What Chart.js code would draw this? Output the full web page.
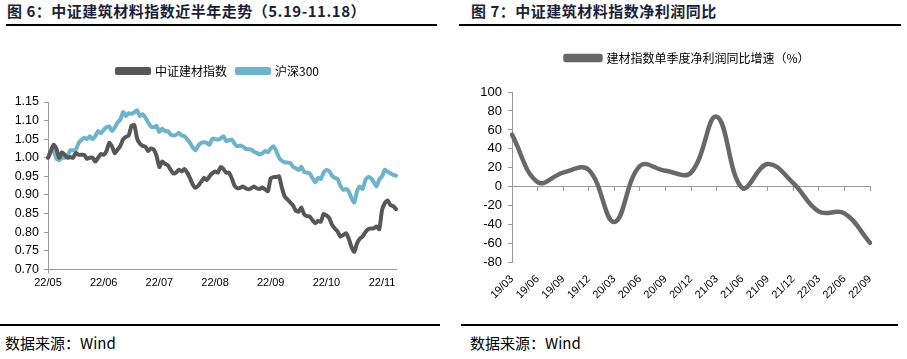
<!DOCTYPE html>
<html><head><meta charset="utf-8">
<script src="https://cdn.jsdelivr.net/npm/chart.js@4.4.0/dist/chart.umd.min.js"></script>
<style>
html,body{margin:0;padding:0;background:#fff;}
body{width:907px;height:359px;position:relative;overflow:hidden;font-family:"Noto Sans CJK SC","Liberation Sans",sans-serif;}
.title{position:absolute;top:0;line-height:22px;font-size:15px;font-weight:bold;color:#1a1f3c;white-space:nowrap;letter-spacing:0.5px;}
.rule{position:absolute;height:2px;background:#000;}
.src{position:absolute;top:333px;line-height:20px;font-size:15px;color:#000;white-space:nowrap;}
.box{position:absolute;}
</style></head><body>
<div class="title" style="left:7px">图 6：中证建筑材料指数近半年走势（5.19-11.18）</div>
<div class="rule" style="left:6px;top:24px;width:431px"></div>
<div class="title" style="left:471px">图 7：中证建筑材料指数净利润同比</div>
<div class="rule" style="left:459px;top:24px;width:442px"></div>
<div class="box" style="left:0;top:30px;width:453px;height:264px"><canvas id="c1"></canvas></div>
<div class="box" style="left:453px;top:30px;width:454px;height:275px"><canvas id="c2"></canvas></div>
<div class="rule" style="left:0;top:324px;width:440px;height:1.5px"></div>
<div class="rule" style="left:461px;top:324px;width:437px;height:1.5px"></div>
<div class="src" style="left:5px">数据来源：Wind</div>
<div class="src" style="left:470px">数据来源：Wind</div>
<script>
// ---- Chart 6 data ----
const tickLabels1 = ['22/05','22/06','22/07','22/08','22/09','22/10','22/11'];
const tickEvery1 = 20;
const jiancai = [
1.000,1.018,1.035,1.025,1.000,1.015,1.008,1.000,1.002,1.000,
1.013,1.008,1.008,1.008,0.997,1.000,1.000,0.990,1.000,1.010,
1.008,1.018,1.040,1.030,1.012,1.022,1.032,1.050,1.056,1.060,
1.086,1.088,1.052,1.038,1.032,1.030,1.018,1.025,1.022,1.005,
0.975,0.990,0.984,0.980,0.968,0.958,0.960,0.968,0.963,0.970,
0.960,0.945,0.928,0.919,0.925,0.935,0.946,0.940,0.950,0.958,
0.963,0.960,0.975,0.970,0.960,0.960,0.945,0.925,0.918,0.919,
0.923,0.918,0.915,0.918,0.923,0.918,0.916,0.920,0.915,0.910,
0.945,0.948,0.948,0.950,0.920,0.896,0.888,0.880,0.872,0.858,
0.855,0.866,0.848,0.843,0.842,0.832,0.824,0.830,0.828,0.849,
0.845,0.838,0.820,0.810,0.802,0.788,0.792,0.797,0.783,0.760,
0.747,0.770,0.782,0.788,0.800,0.808,0.810,0.810,0.815,0.808,
0.860,0.878,0.885,0.873,0.870,0.862];
const hs300 = [
1.000,1.015,1.022,0.998,0.993,1.000,1.000,1.005,1.020,1.020,
1.022,1.040,1.048,1.054,1.050,1.058,1.050,1.058,1.072,1.066,
1.075,1.082,1.084,1.072,1.082,1.095,1.103,1.123,1.112,1.120,
1.118,1.122,1.128,1.112,1.117,1.108,1.095,1.084,1.082,1.086,
1.069,1.078,1.072,1.072,1.063,1.060,1.062,1.067,1.060,1.058,
1.050,1.040,1.028,1.020,1.033,1.040,1.042,1.040,1.035,1.051,
1.050,1.049,1.052,1.058,1.045,1.047,1.049,1.038,1.031,1.033,
1.030,1.024,1.023,1.022,1.016,1.013,1.009,1.012,1.018,1.015,
1.025,1.031,1.018,1.000,0.992,0.988,0.987,0.986,0.976,0.972,
0.967,0.976,0.962,0.960,0.958,0.945,0.934,0.946,0.943,0.960,
0.967,0.964,0.952,0.946,0.943,0.925,0.914,0.916,0.910,0.892,
0.880,0.910,0.923,0.916,0.940,0.948,0.945,0.935,0.923,0.942,
0.950,0.968,0.962,0.958,0.954,0.952];
// ---- Chart 7 data ----
const quarters = ['19/03','19/06','19/09','19/12','20/03','20/06','20/09','20/12','21/03','21/06','21/09','21/12','22/03','22/06','22/09'];
const profitYoY = [55, 5, 15, 18, -37, 22, 17, 15, 74, -1, 24, 4, -26, -28, -59];

const CJK = '"Noto Sans CJK SC", sans-serif';
const LAT = '"Liberation Sans", Arial, sans-serif';
Chart.defaults.font.family = LAT;
Chart.defaults.color = '#000';

// adds extra space under the legend and shifts it sideways
const legendGap = {
  id: 'legendGap',
  beforeInit(chart, args, opts) {
    const orig = chart.legend.fit;
    chart.legend.fit = function () { orig.call(this); this.height += (opts.extra || 0); };
  },
  afterLayout(chart, args, opts) {
    const dx = opts.shift || 0;
    chart.legend.left += dx; chart.legend.right += dx;
  }
};

const categories1 = jiancai.map((_, i) => i % tickEvery1 === 0 ? tickLabels1[i / tickEvery1] : '');
const axisGray = '#9a9a9a';

new Chart(document.getElementById('c1'), {
  type: 'line',
  data: {
    labels: categories1,
    datasets: [
      {label: '中证建材指数', data: jiancai, borderColor: '#575757', backgroundColor: '#575757', borderWidth: 4, pointRadius: 0, tension: 0.2, borderJoinStyle: 'round', borderCapStyle: 'round'},
      {label: '沪深300', data: hs300, borderColor: '#6cb3cd', backgroundColor: '#6cb3cd', borderWidth: 4, pointRadius: 0, tension: 0.2, borderJoinStyle: 'round', borderCapStyle: 'round'}
    ]
  },
  plugins: [legendGap],
  options: {
    responsive: true, maintainAspectRatio: false, animation: false, events: [],
    layout: {padding: {top: 25, left: 0, right: 57, bottom: 0}},
    plugins: {
      legendGap: {extra: 15, shift: 20},
      tooltip: {enabled: false},
      legend: {position: 'top', labels: {boxWidth: 32, boxHeight: 4, padding: 10, font: {size: 12, family: CJK}, color: '#000'}}
    },
    scales: {
      x: {
        offset: false,
        grid: {drawOnChartArea: false, drawTicks: true, tickLength: 4,
               color: ctx => (ctx.index % tickEvery1 === 0 ? axisGray : 'rgba(0,0,0,0)')},
        border: {color: axisGray, width: 1},
        ticks: {autoSkip: false, maxRotation: 0, minRotation: 0, padding: 3, font: {size: 11}, color: '#000',
                callback: function (v) { const l = this.getLabelForValue(v); return l === '' ? null : l; }},
        afterFit(s) { s.height = 24.7; }
      },
      y: {
        min: 0.70, max: 1.15,
        grid: {drawOnChartArea: false, drawTicks: true, tickLength: 4, color: axisGray},
        border: {color: axisGray, width: 1},
        ticks: {stepSize: 0.05, padding: 5, font: {size: 12.5}, color: '#000', callback: v => Number(v).toFixed(2)},
        afterFit(s) { s.width = 48; }
      }
    }
  }
});

new Chart(document.getElementById('c2'), {
  type: 'line',
  data: {
    labels: quarters,
    datasets: [
      {label: '建材指数单季度净利润同比增速（%）', data: profitYoY, borderColor: '#686868', backgroundColor: '#686868', borderWidth: 4.5, pointRadius: 0, tension: 0.4, borderJoinStyle: 'round', borderCapStyle: 'round'}
    ]
  },
  plugins: [legendGap],
  options: {
    responsive: true, maintainAspectRatio: false, animation: false, events: [],
    layout: {padding: {top: 12, left: 0, right: 37, bottom: 0}},
    plugins: {
      legendGap: {extra: 18, shift: 26},
      tooltip: {enabled: false},
      legend: {position: 'top', labels: {boxWidth: 35, boxHeight: 4, padding: 10, font: {size: 12, family: CJK}, color: '#000'}}
    },
    scales: {
      x: {
        offset: false,
        grid: {display: false},
        border: {display: false},
        ticks: {autoSkip: false, maxRotation: 45, minRotation: 45, padding: 2, font: {size: 11}, color: '#000'},
        afterFit(s) { s.height = 42.3; }
      },
      x2: {
        type: 'category', position: {y: 0}, offset: false,
        grid: {drawOnChartArea: false, drawTicks: true, tickLength: 4, color: axisGray},
        border: {color: axisGray, width: 1},
        ticks: {autoSkip: false, maxRotation: 0, callback: () => ''}
      },
      y: {
        min: -80, max: 100,
        grid: {drawOnChartArea: false, drawTicks: true, tickLength: 4, color: axisGray},
        border: {color: axisGray, width: 1},
        ticks: {stepSize: 20, padding: 6, font: {size: 13}, color: '#000'},
        afterFit(s) { s.width = 59; }
      }
    }
  }
});
</script>
</body></html>
